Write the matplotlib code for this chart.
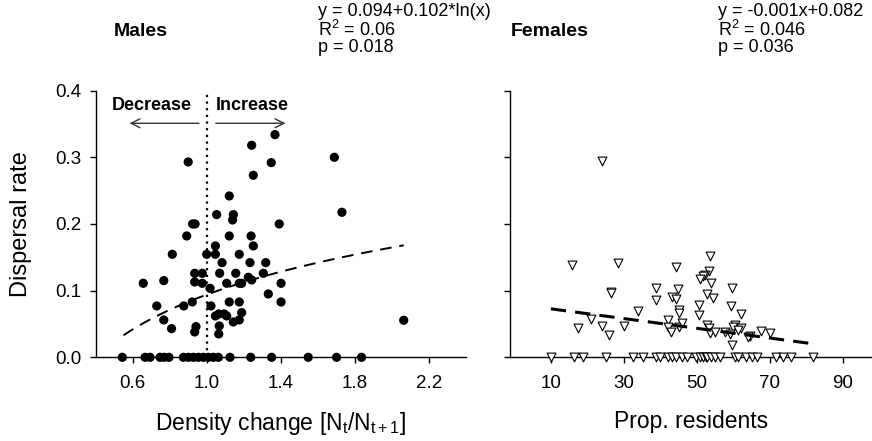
import numpy as np
import matplotlib
matplotlib.use("Agg")
import matplotlib.pyplot as plt

plt.rcParams["font.family"] = ["Liberation Sans", "DejaVu Sans"]
plt.rcParams["mathtext.fontset"] = "custom"
plt.rcParams["mathtext.rm"] = "Liberation Sans"
plt.rcParams["mathtext.it"] = "Liberation Sans"

# ---- Males: dispersal rate vs density change ----
male_x = [0.657, 0.768, 0.73, 0.768, 0.81, 0.814, 0.876, 0.892, 0.90, 0.924,
          0.937, 0.935, 0.976, 0.935, 0.976, 0.922, 0.942, 0.935, 1.0, 1.018,
          1.023, 1.047, 1.047, 1.054, 1.047, 1.065, 1.068, 1.065, 1.070, 1.083,
          1.095, 1.108, 1.108, 1.122, 1.122, 1.122, 1.144, 1.14, 1.144, 1.157,
          1.176, 1.176, 1.176, 1.176, 1.189, 1.189, 1.234, 1.24, 1.225, 1.243,
          1.243, 1.252, 1.252, 1.306, 1.319, 1.333, 1.349, 1.369, 1.392, 1.402,
          1.402, 1.69, 1.731, 2.065,
          0.544, 0.667, 0.694, 0.748, 0.770, 0.796, 0.874, 0.901, 0.928, 0.955,
          0.982, 1.009, 1.036, 1.063, 1.126, 1.238, 1.351, 1.549, 1.702, 1.837]
male_y = [0.111, 0.115, 0.077, 0.056, 0.043, 0.1545, 0.077, 0.182, 0.293, 0.20,
          0.20, 0.126, 0.126, 0.113, 0.111, 0.083, 0.046, 0.038, 0.1545, 0.1035,
          0.077, 0.167, 0.1545, 0.214, 0.062, 0.065, 0.047, 0.035, 0.126, 0.142,
          0.065, 0.062, 0.111, 0.182, 0.242, 0.083, 0.214, 0.206, 0.053, 0.126,
          0.1545, 0.111, 0.083, 0.056, 0.111, 0.067, 0.142, 0.182, 0.12, 0.116,
          0.318, 0.273, 0.167, 0.126, 0.142, 0.095, 0.292, 0.334, 0.20, 0.111,
          0.083, 0.300, 0.2175, 0.0555,
          0, 0, 0, 0, 0, 0, 0, 0, 0, 0,
          0, 0, 0, 0, 0, 0, 0, 0, 0, 0]

# logarithmic fit y = a + b*ln(x)
male_a, male_b = 0.094, 0.102
male_fit_range = (0.55, 2.065)

# ---- Females: dispersal rate vs proportion of residents ----
female_x = [24.1, 15.7, 28.5, 44.2, 26.6, 26.6, 38.9, 38.7, 43.3, 44.4,
            44.8, 33.8, 20.9, 17.3, 24.1, 25.9, 30.0, 42.2, 42.2, 42.9,
            45.0, 45.1, 45.0, 53.6, 53.4, 52.2, 51.7, 50.8, 53.8, 59.7,
            52.7, 54.5, 50.6, 59.3, 62.2, 50.6, 45.8, 52.7, 53.2, 53.6,
            54.9, 60.4, 59.9, 57.7, 59.0, 62.2, 61.3, 64.5, 64.0, 67.5,
            70.0, 59.7,
            10.0, 16.3, 18.9, 25.1, 32.5, 35.3, 38.8, 39.9, 42.1, 43.3,
            44.4, 45.8, 47.2, 49.9, 50.8, 51.7, 52.5, 52.8, 53.8, 54.9,
            56.3, 60.4, 61.3, 63.6, 65.0, 66.4, 71.8, 73.6, 75.9, 81.9]
female_y = [0.295, 0.138, 0.141, 0.136, 0.098, 0.097, 0.104, 0.086, 0.091, 0.088,
            0.102, 0.069, 0.057, 0.0435, 0.047, 0.033, 0.047, 0.056, 0.045, 0.038,
            0.071, 0.067, 0.046, 0.152, 0.129, 0.124, 0.122, 0.117, 0.112, 0.1035,
            0.0945, 0.089, 0.078, 0.077, 0.0645, 0.0635, 0.052, 0.048, 0.0435, 0.037,
            0.038, 0.048, 0.045, 0.038, 0.035, 0.0435, 0.041, 0.032, 0.030, 0.040,
            0.036, 0.018,
            0, 0, 0, 0, 0, 0, 0, 0, 0, 0,
            0, 0, 0, 0, 0, 0, 0, 0, 0, 0,
            0, 0, 0, 0, 0, 0, 0, 0, 0, 0]

# linear fit y = slope*x + intercept (slope shown rounded as -0.001)
female_slope, female_intercept = -0.00073, 0.0800
female_fit_range = (10.0, 81.4)

male_xticks = [0.6, 1.0, 1.4, 1.8, 2.2]
female_xticks = [10, 30, 50, 70, 90]
yticks = [0.0, 0.1, 0.2, 0.3, 0.4]

W, H = 872, 441
fig = plt.figure(figsize=(W / 100, H / 100), dpi=100)

bottom = (H - 357.3) / H
height = 266.7 / H
ax1 = fig.add_axes([95.7 / W, bottom, 370.0 / W, height])
ax2 = fig.add_axes([510.0 / W, bottom, (W - 510.0) / W, height])

tick_fs = 13.5
for ax in (ax1, ax2):
    ax.set_ylim(0, 0.4)
    ax.set_yticks(yticks)
    ax.spines["top"].set_visible(False)
    ax.spines["right"].set_visible(False)
    for s in ("left", "bottom"):
        ax.spines[s].set_linewidth(1.0)
    ax.tick_params(direction="out", length=4, width=1.0, labelsize=tick_fs, pad=6)
    ax.tick_params(axis="x", pad=9)

# Males panel
ax1.set_xlim(0.4, 2.4)
ax1.set_xticks(male_xticks)
ax1.set_xticklabels([f"{t:.1f}" for t in male_xticks])
ax1.set_yticklabels([f"{t:.1f}" for t in yticks])
ax1.scatter(male_x, male_y, s=44, color="black", edgecolors="none",
            clip_on=False, zorder=3)
xx = np.linspace(*male_fit_range, 200)
ax1.plot(xx, male_a + male_b * np.log(xx), color="black", lw=1.4,
         dashes=(6, 4), zorder=4)
ax1.plot([1.0, 1.0], [0, 0.4], color="black", lw=1.6, ls=(0, (1, 2)),
         clip_on=False, zorder=2)
ax1.annotate("", xy=(0.568, 0.351), xytext=(0.973, 0.351),
             arrowprops=dict(arrowstyle="->", color="#333333", lw=1.0,
                             mutation_scale=16))
ax1.annotate("", xy=(1.441, 0.351), xytext=(1.034, 0.351),
             arrowprops=dict(arrowstyle="->", color="#333333", lw=1.0,
                             mutation_scale=16))
ax1.text(0.703, 0.378, "Decrease", ha="center", va="center",
         fontsize=13, fontweight="bold")
ax1.text(1.245, 0.378, "Increase", ha="center", va="center",
         fontsize=13, fontweight="bold")
ax1.set_ylabel("Dispersal rate", fontsize=17, labelpad=17)
ax1.set_xlabel(r"Density change [N$_t$/N$_{t+1}$]", fontsize=16.5, labelpad=13)

# Females panel
ax2.set_xlim(-1.2, 98)
ax2.set_xticks(female_xticks)
ax2.set_yticklabels([])
ax2.scatter(female_x, female_y, s=40, marker="v", facecolors="white",
            edgecolors="black", linewidths=0.8, clip_on=False, zorder=3)
fx = np.array(female_fit_range)
ax2.plot(fx, female_slope * fx + female_intercept, color="black", lw=2.2,
         dashes=(5, 3), zorder=4)
ax2.set_xlabel("Prop. residents", fontsize=16.5, labelpad=13)

# Panel titles and fit statistics
def ftext(px, py, s, **kw):
    fig.text(px / W, 1 - py / H, s, **kw)

ftext(141, 31, "Males", ha="center", va="center", fontsize=14, fontweight="bold")
ftext(550, 31, "Females", ha="center", va="center", fontsize=14, fontweight="bold")

eq_fs = 13
for px, lines in ((318, ["y = 0.094+0.102*ln(x)", "R$^2$ = 0.06", "p = 0.018"]),
                  (718, ["y = -0.001x+0.082", "R$^2$ = 0.046", "p = 0.036"])):
    for i, line in enumerate(lines):
        ftext(px, 11 + 18.5 * i, line, ha="left", va="center", fontsize=eq_fs)

fig.savefig("out.png", dpi=100)
